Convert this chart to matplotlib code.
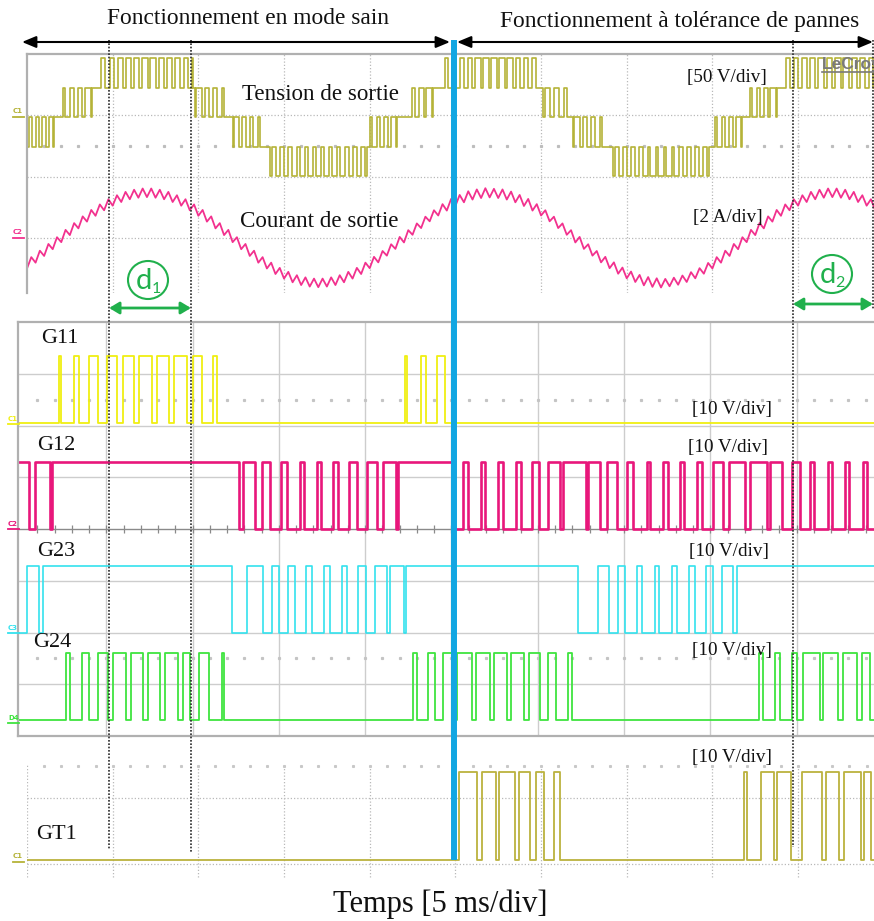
"""Oscilloscope capture: healthy mode vs fault-tolerant mode of a multilevel inverter."""

import matplotlib

matplotlib.use("Agg")
import matplotlib.pyplot as plt
import numpy as np
from matplotlib.patches import Ellipse
from matplotlib.transforms import blended_transform_factory

# ------------------------------------------------------------------ data
# time base 5 ms/div, t = 0 on the first vertical grid line of the top screen

# output voltage read as PWM zones: bounds [ms], lower / upper level index,
# duty of the upper level for each carrier period (empty list = flat level)
VOLT_LEVEL_STEP_V = 24.0
VZ_START_MS = [0.00, 1.58, 1.93, 3.79, 4.14, 4.73, 9.51, 9.80, 11.67, 12.02, 13.77,
               14.18, 19.84, 21.59, 22.35, 23.69, 24.28, 24.69, 29.82, 30.11, 31.69,
               31.86, 33.73, 34.20, 39.80, 39.98, 41.73, 42.02, 43.77, 44.18, 44.65]
VZ_END_MS = VZ_START_MS[1:] + [49.50]
VZ_LOW = [-1, 0, 0, 1, 1, 1, 1, 0, 0, -1, -1, -2, -1, 0, 0, 1,
          1, 1, 1, 0, 0, -1, -1, -2, -1, -1, 0, 0, 1, 1, 1]
VZ_HIGH = [0, 0, 1, 1, 2, 2, 2, 1, 0, 0, -1, -1, 0, 0, 1, 1,
           2, 2, 1, 1, 0, 0, -1, -1, -1, 0, 0, 1, 1, 2, 2]
VZ_DUTY = [
    [0.35, 0.45, 0.55, 0.6], [], [0.3, 0.45, 0.6, 0.75], [], [0.3],
    [0.5, 0.55, 0.6, 0.65, 0.7, 0.7, 0.65, 0.6, 0.55, 0.5], [0.3],
    [0.75, 0.6, 0.45, 0.3], [], [0.7, 0.55, 0.45, 0.3], [],
    [0.55, 0.5, 0.45, 0.4, 0.35, 0.35, 0.35, 0.35, 0.4, 0.45, 0.5, 0.55],
    [0.3, 0.45, 0.55, 0.7], [], [0.4, 0.55, 0.7], [], [0.4],
    [0.5, 0.55, 0.6, 0.65, 0.7, 0.7, 0.7, 0.65, 0.6, 0.55, 0.5], [],
    [0.65, 0.5, 0.35], [], [0.7, 0.55, 0.45, 0.3], [],
    [0.55, 0.5, 0.45, 0.4, 0.35, 0.35, 0.35, 0.35, 0.4, 0.45, 0.5, 0.55], [],
    [0.3, 0.45, 0.55, 0.7], [], [0.3, 0.45, 0.6, 0.75], [], [0.4],
    [0.5, 0.55, 0.6, 0.65, 0.7, 0.7, 0.7, 0.65, 0.6, 0.55],
]

# output current sampled every 0.25 ms [A]
CURRENT_STEP_MS = 0.25
CURRENT_A = [
    -1.00, -0.63, -0.81, -0.42, -0.59, -0.20, -0.37, 0.02, -0.14, 0.26,
    0.09, 0.48, 0.31, 0.70, 0.53, 0.91, 0.72, 1.09, 0.90, 1.26,
    1.05, 1.39, 1.17, 1.50, 1.26, 1.57, 1.31, 1.61, 1.33, 1.61,
    1.31, 1.57, 1.26, 1.50, 1.17, 1.39, 1.05, 1.26, 0.90, 1.09,
    0.72, 0.91, 0.53, 0.70, 0.31, 0.48, 0.09, 0.26, -0.14, 0.02,
    -0.37, -0.20, -0.59, -0.42, -0.81, -0.63, -1.00, -0.81, -1.18, -0.98,
    -1.33, -1.11, -1.45, -1.22, -1.54, -1.29, -1.59, -1.33, -1.61, -1.33,
    -1.59, -1.29, -1.54, -1.22, -1.45, -1.11, -1.33, -0.98, -1.18, -0.81,
    -0.99, -0.62, -0.80, -0.43, -0.58, -0.21, -0.36, 0.03, -0.15, 0.25,
    0.10, 0.47, 0.32, 0.69, 0.54, 0.90, 0.73, 1.10, 0.89, 1.27,
    1.04, 1.40, 1.16, 1.52, 1.25, 1.58, 1.30, 1.62, 1.32, 1.60,
    1.30, 1.58, 1.25, 1.51, 1.16, 1.40, 1.04, 1.27, 0.89, 1.10,
    0.73, 0.90, 0.54, 0.69, 0.32, 0.47, 0.10, 0.25, -0.15, 0.03,
    -0.36, -0.21, -0.58, -0.43, -0.80, -0.62, -0.99, -0.80, -1.17, -0.97,
    -1.32, -1.10, -1.44, -1.21, -1.55, -1.28, -1.60, -1.32, -1.62, -1.34,
    -1.58, -1.30, -1.53, -1.23, -1.44, -1.12, -1.32, -0.99, -1.17, -0.82,
    -1.00, -0.63, -0.81, -0.42, -0.59, -0.20, -0.37, 0.02, -0.14, 0.26,
    0.09, 0.48, 0.31, 0.70, 0.53, 0.91, 0.72, 1.09, 0.90, 1.26,
    1.05, 1.39, 1.17, 1.50, 1.26, 1.57, 1.31, 1.61, 1.33, 1.61,
    1.31, 1.57, 1.26, 1.50, 1.17, 1.39, 1.05, 1.26, 0.90,
]

# gate signals: switching instants [ms], level toggles at each instant
G11_EDGES_MS = [2.24, 2.36, 3.13, 3.42, 4.00, 4.52, 5.04, 5.62, 5.97, 6.61, 6.89, 7.65,
                7.94, 8.63, 8.92, 9.68, 10.02, 10.55, 11.18, 11.41,
                22.31, 22.42, 23.23, 23.52, 24.16, 24.62]
G12_EDGES_MS = [0.54, 0.87, 1.74, 1.84, 12.71, 12.90, 13.62, 14.00, 14.49, 15.12, 15.49,
                16.22, 16.45, 17.19, 17.42, 18.15, 18.44, 19.08, 19.51, 20.09, 20.67,
                21.01, 21.79, 21.92, 25.15, 25.65, 25.97, 26.69, 26.96, 27.71, 27.97,
                28.72, 29.03, 29.68, 30.09, 30.57, 31.29, 31.48, 32.79, 32.93, 33.61,
                33.99, 34.57, 35.15, 35.53, 36.31, 36.50, 37.27, 37.53, 38.24, 38.49,
                39.21, 39.50, 40.17, 40.75, 41.08, 42.01, 42.30, 43.26, 43.46, 44.13,
                44.75, 45.19, 45.77, 46.02, 46.80, 47.03, 47.80, 48.03, 48.86, 49.06]
G23_EDGES_MS = [0.42, 1.12, 1.35, 12.27, 13.14, 14.10, 14.58, 15.02, 15.55, 15.93, 16.57,
                16.90, 17.63, 17.96, 18.64, 18.93, 19.60, 20.03, 20.57, 21.25, 21.44,
                22.27, 22.35, 32.35, 33.51, 34.14, 34.67, 35.05, 35.73, 36.02, 36.79,
                37.04, 37.76, 38.05, 38.78, 39.11, 39.75, 40.14, 40.66, 41.33, 41.53]
G24_EDGES_MS = [2.67, 2.90, 3.57, 4.02, 4.54, 5.12, 5.41, 6.14, 6.41, 7.14, 7.43, 8.11,
                8.40, 9.14, 9.46, 9.85, 10.39, 10.97, 11.69, 11.82,
                22.79, 22.98, 23.66, 24.05, 24.53, 25.03, 25.32, 26.19, 26.42, 27.23,
                27.46, 28.22, 28.45, 29.20, 29.49, 30.13, 30.59, 31.06, 31.75, 31.98,
                42.84, 43.07, 43.74, 44.03, 44.71, 45.00, 45.38, 46.35, 46.54, 47.41,
                47.70, 48.48, 48.77, 49.25]
GT1_EDGES_MS = [25.19, 26.27, 26.56, 27.39, 27.53, 28.50, 28.70, 29.38, 29.73, 30.16,
                30.78, 31.09, 41.84, 42.04, 42.81, 43.59, 43.79, 44.57, 45.25, 46.42,
                46.61, 47.39, 47.68, 48.66, 48.85, 49.24]
GATE_NAMES = ["G11", "G12", "G23", "G24"]
GATE_START_HIGH = [False, True, False, False]
GATE_HIGH_V = 13.0
GT1_HIGH_V = 13.3

FAULT_MS = 24.92
D1_MS = [4.79, 9.57]
D2_MS = [44.70, 49.37]

# ------------------------------------------------------------------ style
W_PX, H_PX = 874, 921
GRID_C = "#b9b9b9"
BORDER_C = "#b0b0b0"
VOLT_C = "#b5b338"
CURR_C = "#f2318e"
GATE_C = ["#f0ef12", "#e8177b", "#33e2ee", "#3fe43f"]
GT1_C = "#bbb23e"
BLUE_C = "#12a6e2"
GREEN_C = "#20b04c"
SERIF = "Liberation Serif"


def frame(left, top, right, bottom):
    return [left / W_PX, 1 - bottom / H_PX, (right - left) / W_PX, (bottom - top) / H_PX]


def pwm_trace(starts, ends, lows, highs, duties):
    t, lvl = [], []
    for t0, t1, lo, hi, dl in zip(starts, ends, lows, highs, duties):
        if not dl:
            t.append(t0)
            lvl.append(lo)
            continue
        period = (t1 - t0) / len(dl)
        for k, d in enumerate(dl):
            a = t0 + k * period
            t += [a, a + period * (1 - d) / 2, a + period * (1 + d) / 2]
            lvl += [lo, hi, lo]
    t.append(ends[-1])
    lvl.append(lvl[-1])
    return np.array(t), np.array(lvl, dtype=float)


def gate_trace(edges, start_high, t0, t1):
    t = np.concatenate([[t0], edges, [t1]])
    states = (np.arange(len(edges) + 1) + int(start_high)) % 2
    return t, np.append(states, states[-1]).astype(float)


def clean(ax, spines=()):
    ax.set_xticks([])
    ax.set_yticks([])
    for name, sp in ax.spines.items():
        sp.set_visible(name in spines)
        sp.set_color(BORDER_C)
        sp.set_linewidth(1.6)
    ax.patch.set_alpha(0)


fig = plt.figure(figsize=(W_PX / 100, H_PX / 100), dpi=100)
fig.patch.set_facecolor("white")
dotted = (0, (1, 1.6))

# ---------------------------------------------------------------- screen A
ax_a = fig.add_axes(frame(27, 54, 874, 293))
clean(ax_a, ("left", "top"))
a_x1 = 49.43
ax_a.set_xlim(0, a_x1)
ax_a.set_ylim(-0.90, 3.0)
ax_a.vlines(np.arange(5, 50, 5), -0.90, 3.0, colors=GRID_C, linestyles=dotted, lw=0.9)
ax_a.hlines([0, 1, 2], 0, a_x1, colors=GRID_C, linestyles=dotted, lw=0.9)
dots = np.arange(1, 50, 1.0)
ax_a.plot(dots, np.full(dots.size, 1.5), ls="none", marker="s", ms=1.3, color="#bdbdbd")

t_v, lvl_v = pwm_trace(VZ_START_MS, VZ_END_MS, VZ_LOW, VZ_HIGH, VZ_DUTY)
ax_a.plot(t_v, lvl_v * VOLT_LEVEL_STEP_V / 50.0 + 1.97, drawstyle="steps-post",
          color=VOLT_C, lw=1.2)
t_i = np.arange(len(CURRENT_A)) * CURRENT_STEP_MS
ax_a.plot(t_i, np.array(CURRENT_A) / 2.0, color=CURR_C, lw=1.3)

# ---------------------------------------------------------------- screen B
ax_b = fig.add_axes(frame(18, 322, 874, 736))
clean(ax_b, ("left", "top", "bottom"))
b_x0, b_x1 = -0.116, 49.48
ax_b.set_xlim(b_x0, b_x1)
ax_b.set_ylim(0, 8)
ax_b.vlines(np.arange(5, 50, 5), 0, 8, colors="#cdcdcd", lw=1.0)
ax_b.hlines([1, 2, 3, 5, 6, 7], b_x0, b_x1, colors="#cdcdcd", lw=1.0)
ax_b.hlines(4, b_x0, b_x1, colors="#8a8a8a", lw=1.0)
ax_b.vlines(np.arange(1, 50, 1.0), 3.93, 4.07, colors="#8a8a8a", lw=0.9)
for yr in (1.5, 6.5):
    ax_b.plot(dots, np.full(dots.size, yr), ls="none", marker="s", ms=1.3, color="#c4c4c4")

gate_edges = [G11_EDGES_MS, G12_EDGES_MS, G23_EDGES_MS, G24_EDGES_MS]
gate_offsets = [6.05, 4.0, 1.99, 0.31]
gate_lw = [1.3, 1.9, 1.2, 1.3]
for edges, high, off, col, lw in zip(gate_edges, GATE_START_HIGH, gate_offsets, GATE_C, gate_lw):
    t_g, s_g = gate_trace(edges, high, b_x0, b_x1)
    ax_b.plot(t_g, s_g * GATE_HIGH_V / 10.0 + off, drawstyle="steps-post", color=col, lw=lw)

# ---------------------------------------------------------------- screen C
ax_c = fig.add_axes(frame(27, 760, 874, 880))
clean(ax_c)
ax_c.set_xlim(0, a_x1)
ax_c.set_ylim(-0.242, 1.576)
ax_c.vlines(np.arange(0, 50, 5), -0.2, 1.5, colors=GRID_C, linestyles=dotted, lw=0.9)
ax_c.hlines([0, 1], 0, a_x1, colors=GRID_C, linestyles=dotted, lw=0.9)
ax_c.plot(dots, np.full(dots.size, 1.48), ls="none", marker="s", ms=1.2, color="#c8c8c8")
t_g, s_g = gate_trace(GT1_EDGES_MS, False, 0, a_x1)
ax_c.plot(t_g, s_g * GT1_HIGH_V / 10.0 + 0.06, drawstyle="steps-post", color=GT1_C, lw=1.3)

# ---------------------------------------------------------------- overlay
ax_o = fig.add_axes([0, 0, 1, 1])
ax_o.set_xlim(0, W_PX)
ax_o.set_ylim(H_PX, 0)
ax_o.axis("off")
ax_o.patch.set_alpha(0)
tr = blended_transform_factory(ax_a.transData, ax_o.transData)

for t_mark, y_end in zip(D1_MS + D2_MS, [850, 852, 847, 310]):
    ax_o.plot([t_mark, t_mark], [40, y_end], transform=tr, color="#2a2a2a",
              lw=1.2, ls=(0, (1, 1)))
ax_o.plot([FAULT_MS, FAULT_MS], [40, 860], transform=tr, color=BLUE_C, lw=4.3,
          solid_capstyle="butt")

black_arrow = dict(arrowstyle="<|-|>,head_length=0.6,head_width=0.25", color="black",
                   lw=1.5, shrinkA=0, shrinkB=0, mutation_scale=14)
ax_o.annotate("", xy=(450, 42), xytext=(22, 42), arrowprops=black_arrow)
ax_o.annotate("", xy=(873, 42), xytext=(457, 42), arrowprops=black_arrow)

green_arrow = dict(arrowstyle="<|-|>,head_length=0.5,head_width=0.3", color=GREEN_C,
                   lw=2.0, shrinkA=0, shrinkB=0, mutation_scale=12)
ax_o.annotate("", xy=(D1_MS[1], 308), xytext=(D1_MS[0], 308), xycoords=tr,
              textcoords=tr, arrowprops=green_arrow)
ax_o.annotate("", xy=(D2_MS[1], 304), xytext=(D2_MS[0], 304), xycoords=tr,
              textcoords=tr, arrowprops=green_arrow)

for cx, cy, sub in [(148, 280, "1"), (832, 274, "2")]:
    ax_o.add_patch(Ellipse((cx, cy), 40, 38, fill=False, ec=GREEN_C, lw=1.5))
    ax_o.text(cx - 4, cy + 9, "d", color=GREEN_C, fontsize=21, family="Lato",
              ha="center", va="baseline")
    ax_o.text(cx + 8, cy + 13, sub, color=GREEN_C, fontsize=11.5, family="Lato",
              ha="center", va="baseline")

texts = [
    (107, 24, "Fonctionnement en mode sain", 16.8),
    (500, 27, "Fonctionnement à tolérance de pannes", 16.8),
    (242, 100, "Tension de sortie", 16.6),
    (240, 227, "Courant de sortie", 16.6),
    (687, 82, "[50 V/div]", 13.8),
    (693, 222, "[2 A/div]", 13.8),
    (41, 343, "G11", 16),
    (37, 450, "G12", 16),
    (37, 556, "G23", 16),
    (33, 647, "G24", 16),
    (36, 839, "GT1", 16),
    (692, 414, "[10 V/div]", 13.8),
    (688, 452, "[10 V/div]", 13.8),
    (689, 556, "[10 V/div]", 13.8),
    (692, 655, "[10 V/div]", 13.8),
    (692, 762, "[10 V/div]", 13.8),
    (333, 912, "Temps [5 ms/div]", 22),
]
for x, y, s, fs in texts:
    ax_o.text(x, y, s, family=SERIF, fontsize=fs, color="#111111", ha="left", va="baseline")

# scope logo, cut by the right edge of the capture as in the original
ax_o.text(822, 69, "LeCroy", family="Liberation Sans", fontweight="bold", fontsize=12.5,
          color="#7a7a7a", ha="left", va="baseline")
ax_o.plot([822, 874], [72, 72], color="#7a7a7a", lw=1.2)

# small channel markers on the left of each screen
markers = [
    (13, 113, "C1", VOLT_C, 117), (13, 234, "C2", CURR_C, 238),
    (8, 421, "C1", GATE_C[0], 424), (8, 526, "C2", GATE_C[1], 529),
    (8, 630, "C3", GATE_C[2], 633), (8, 720, "D4", GATE_C[3], 723),
    (13, 858, "C1", VOLT_C, 862),
]
for x, y, s, col, yb in markers:
    ax_o.text(x, y, s, fontsize=5, color=col, family="DejaVu Sans", fontweight="bold",
              ha="left", va="baseline")
    ax_o.plot([x, x + 11], [yb, yb], color=col, lw=1.3)

fig.savefig("out.png", dpi=100, facecolor="white")
